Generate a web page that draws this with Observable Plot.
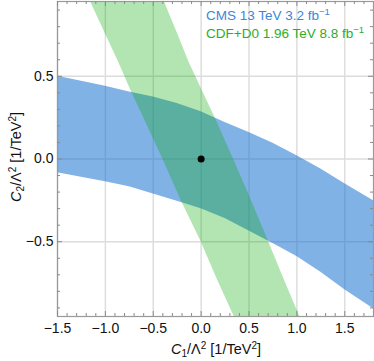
<!DOCTYPE html>
<html><head><meta charset="utf-8">
<script src="https://cdn.jsdelivr.net/npm/d3@7"></script>
<script src="https://cdn.jsdelivr.net/npm/@observablehq/plot@0.6"></script>
<style>
body{margin:0;background:#fff;}
#chart{width:374px;height:361px;}
</style></head><body><div id="chart"></div>
<script>
// CMS 13 TeV band: lower/upper C2 edge at sampled C1 values
const cmsC1   = [-1.5, -1.25, -1.0, -0.75, -0.5, -0.25, 0, 0.25, 0.5, 0.75, 1.0, 1.25, 1.5, 1.8];
const cmsLow  = [-0.083, -0.11, -0.138, -0.168, -0.211, -0.255, -0.30, -0.36, -0.435, -0.51, -0.59, -0.685, -0.79, -0.905];
const cmsHigh = [0.50, 0.47, 0.44, 0.405, 0.375, 0.335, 0.285, 0.22, 0.16, 0.095, 0.02, -0.06, -0.15, -0.253];
// CDF+D0 band: left/right C1 edge at sampled C2 values
const tevC2    = [0.952, 0.75, 0.59, 0.41, 0.25, 0, -0.25, -0.5, -0.725, -0.952];
const tevLeft  = [-1.156, -0.994, -0.865, -0.73, -0.60, -0.40, -0.21, 0.0, 0.167, 0.345];
const tevRight = [-0.385, -0.24, -0.13, 0.015, 0.146, 0.338, 0.524, 0.705, 0.865, 1.03];
// best fit point
const bestC1 = [0];
const bestC2 = [0];
// ticks
const xMajor = [-1.5, -1.0, -0.5, 0, 0.5, 1.0, 1.5];
const yMajor = [-0.5, 0, 0.5];
const xMinor = [-1.4,-1.3,-1.2,-1.1,-0.9,-0.8,-0.7,-0.6,-0.4,-0.3,-0.2,-0.1,0.1,0.2,0.3,0.4,0.6,0.7,0.8,0.9,1.1,1.2,1.3,1.4,1.6,1.7];
const yMinor = [-0.9,-0.8,-0.7,-0.6,-0.4,-0.3,-0.2,-0.1,0.1,0.2,0.3,0.4,0.6,0.7,0.8,0.9];
const legendLabels = ["CMS 13 TeV 3.2 fb", "CDF+D0 1.96 TeV 8.8 fb"];
const legendColors = ["#3d86d8", "#2aae2a"];

const cmsBand = cmsC1.map((x, i) => ({x, lo: cmsLow[i], hi: cmsHigh[i]}));
const tevBand = tevC2.map((y, i) => ({y, left: tevLeft[i], right: tevRight[i]}));
const best = bestC1.map((x, i) => ({x, y: bestC2[i]}));

const W = 374, H = 361, mL = 57, mR = 1, mT = 1, mB = 45;
const fh = H - mT - mB, fw = W - mL - mR;
const tickColor = "#8a8a8a";
const fmt = d3.format(".1f");

const plot = Plot.plot({
  width: W, height: H,
  marginLeft: mL, marginRight: mR, marginTop: mT, marginBottom: mB,
  style: {fontFamily: "'Liberation Sans', Arial, sans-serif", fontSize: "14px", color: "#111", background: "#fff"},
  x: {domain: [-1.5, 1.8]},
  y: {domain: [-0.952, 0.952]},
  marks: [
    Plot.gridX(xMajor, {stroke: "#dcdcdc", strokeOpacity: 1, strokeWidth: 1.4}),
    Plot.gridY(yMajor, {stroke: "#dcdcdc", strokeOpacity: 1, strokeWidth: 1.4}),
    Plot.areaY(cmsBand, {x: "x", y1: "lo", y2: "hi", fill: "rgb(25,115,210)", fillOpacity: 0.55, clip: true}),
    Plot.areaX(tevBand, {y: "y", x1: "left", x2: "right", fill: "rgb(0,170,0)", fillOpacity: 0.3, clip: true}),
    Plot.frame({stroke: "#999", strokeWidth: 1.2}),
    // inward ticks
    Plot.tickX(xMajor, {x: d => d, insetTop: fh - 5, stroke: tickColor}),
    Plot.tickX(xMinor, {x: d => d, insetTop: fh - 3, stroke: tickColor}),
    Plot.tickX(xMajor, {x: d => d, insetBottom: fh - 5, stroke: tickColor}),
    Plot.tickX(xMinor, {x: d => d, insetBottom: fh - 3, stroke: tickColor}),
    Plot.tickY(yMajor, {y: d => d, insetRight: fw - 5, stroke: tickColor}),
    Plot.tickY(yMinor, {y: d => d, insetRight: fw - 3, stroke: tickColor}),
    Plot.tickY(yMajor, {y: d => d, insetLeft: fw - 5, stroke: tickColor}),
    Plot.tickY(yMinor, {y: d => d, insetLeft: fw - 3, stroke: tickColor}),
    Plot.axisX(xMajor, {tickSize: 0, tickPadding: 7, tickFormat: fmt, label: null, fontSize: 14}),
    Plot.axisY(yMajor, {tickSize: 0, tickPadding: 4, tickFormat: fmt, label: null, fontSize: 14}),
    Plot.dot(best, {x: "x", y: "y", r: 3.5, fill: "#000", stroke: null})
  ]
});
document.getElementById("chart").appendChild(plot);

const svg = d3.select(plot);
const ff = "'Liberation Sans', Arial, sans-serif";
// legend
legendLabels.forEach((lab, i) => {
  const t = svg.append("text").attr("x", 206).attr("y", 20 + 18 * i)
    .attr("text-anchor", "start")
    .attr("font-family", ff).attr("font-size", 13.5).attr("fill", legendColors[i]);
  t.append("tspan").text(lab);
  t.append("tspan").attr("font-size", 9.5).attr("dy", -5).text("\u22121");
});
// axis labels
function axisLabel(g) {
  g.append("tspan").style("font-style", "italic").text("C");
  g.append("tspan").attr("font-size", 10).attr("dy", 3).text(g.attr("data-sub"));
  g.append("tspan").attr("dy", -3).text("/\u039B");
  g.append("tspan").attr("font-size", 10).attr("dy", -5).text("2");
  g.append("tspan").attr("dy", 5).text(" [1/TeV");
  g.append("tspan").attr("font-size", 10).attr("dy", -5).text("2");
  g.append("tspan").attr("dy", 5).text("]");
}
const xl = svg.append("text").attr("data-sub", "1").attr("x", 216).attr("y", 354)
  .attr("text-anchor", "middle").attr("font-family", ff).attr("font-size", 14.5).attr("fill", "#111");
axisLabel(xl);
const yl = svg.append("text").attr("data-sub", "2").attr("transform", "translate(21,157) rotate(-90)")
  .attr("text-anchor", "middle").attr("font-family", ff).attr("font-size", 14.5).attr("fill", "#111");
axisLabel(yl);
</script>
</body></html>
